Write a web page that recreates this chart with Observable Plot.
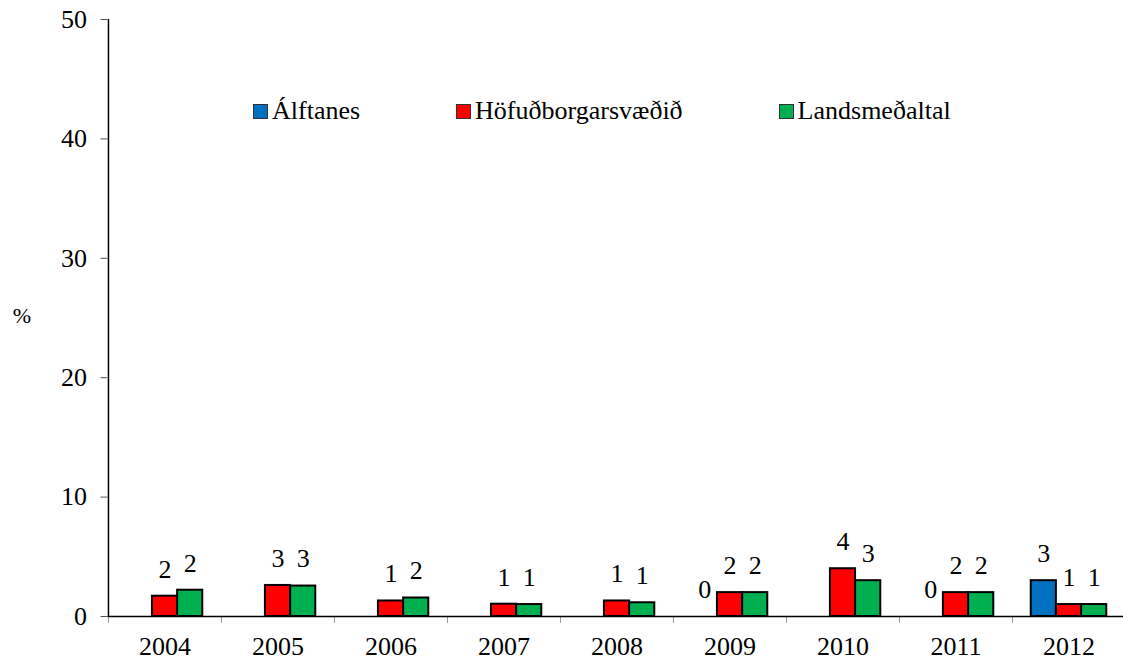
<!DOCTYPE html>
<html>
<head>
<meta charset="utf-8">
<script src="https://cdn.jsdelivr.net/npm/d3@7"></script>
<script src="https://cdn.jsdelivr.net/npm/@observablehq/plot@0.6"></script>
</head>
<body style="margin:0;background:white;font-family:'Liberation Serif'">
<div id="wrap" style="position:relative;width:1123px;height:664px;font-family:'Liberation Serif'">
  <div id="chart"></div>
  <div id="legend" style="position:absolute;left:253px;top:98px;display:flex;gap:96px;font-size:26px;line-height:26px;color:black;font-family:'Liberation Serif'"></div>
</div>
<script>
const years = ["2004", "2005", "2006", "2007", "2008", "2009", "2010", "2011", "2012"];
const seriesNames = ["Álftanes", "Höfuðborgarsvæðið", "Landsmeðaltal"];
const seriesColors = ["#0070C0", "#FF0000", "#00B050"];
const alftanes = [null, null, null, null, null, 0, null, 0, 3.0];
const hofudborgarsvaedid = [1.7, 2.6, 1.3, 1.03, 1.3, 2.0, 4.0, 2.0, 1.0];
const landsmedaltal = [2.2, 2.55, 1.55, 1.0, 1.15, 2.0, 3.0, 2.0, 1.0];
const yTicks = [0, 10, 20, 30, 40, 50];
const yLabel = "%";

const FONT = "Liberation Serif";
const seriesValues = [alftanes, hofudborgarsvaedid, landsmedaltal];
const rows = seriesValues.map((vals, k) =>
  years.map((year, i) => ({year, series: seriesNames[k], value: vals[i]})).filter(d => d.value != null)
);

const W = 1123, H = 664;
const xRange = [107.5, 1125];
const bw = (xRange[1] - xRange[0]) / years.length;
const barW = 25.2;

const marks = [];
rows.forEach((data, k) => {
  const insetLeft = bw / 2 + (k - 1) * barW - barW / 2;
  const insetRight = bw - insetLeft - barW;
  marks.push(Plot.barY(data.filter(d => d.value > 0), {
    x: "year", y: "value", fill: seriesColors[k], stroke: "black", strokeWidth: 2,
    insetLeft, insetRight
  }));
  marks.push(Plot.text(data, {
    x: "year", y: "value", text: d => String(Math.round(d.value)),
    dx: (k - 1) * barW, dy: -27, fontSize: 26, fontFamily: FONT, fill: "black"
  }));
});

const chart = Plot.plot({
  width: W, height: H,
  marginLeft: xRange[0], marginRight: 0, marginTop: 19, marginBottom: 48,
  style: {fontFamily: FONT, fontSize: "26px"},
  x: {domain: years, range: xRange, padding: 0, label: null},
  y: {domain: [0, 50], label: null},
  marks: [
    Plot.axisY({ticks: yTicks, tickSize: 7, tickFormat: () => "", stroke: "#555", label: null}),
    Plot.axisY({ticks: yTicks, tickSize: 0, tickPadding: 21, fontSize: 26, fontFamily: FONT, label: null}),
    Plot.axisX({tickSize: 7, tickFormat: () => "", dx: -bw / 2, stroke: "#999", label: null}),
    Plot.axisX({tickSize: 0, tickPadding: 20, fontSize: 26, fontFamily: FONT, label: null}),
    ...marks,
    Plot.ruleY([0], {stroke: "black", strokeWidth: 1.5}),
    Plot.ruleX([years[0]], {dx: -bw / 2, stroke: "black", strokeWidth: 1.5}),
    Plot.text([yLabel], {frameAnchor: "left", dx: -86, dy: -2, fontSize: 22, fontFamily: FONT, fill: "black", textAnchor: "middle"})
  ]
});
document.getElementById("chart").appendChild(chart);

const legend = document.getElementById("legend");
seriesNames.forEach((name, k) => {
  const item = document.createElement("div");
  item.style.display = "flex";
  item.style.alignItems = "center";
  const sw = document.createElement("div");
  sw.style.width = "13px";
  sw.style.height = "13px";
  sw.style.border = "1.5px solid #333";
  sw.style.marginRight = "4px";
  sw.style.background = seriesColors[k];
  const t = document.createElement("span");
  t.textContent = name;
  t.style.fontFamily = "'Liberation Serif'";
  item.appendChild(sw);
  item.appendChild(t);
  legend.appendChild(item);
});
</script>
</body>
</html>
